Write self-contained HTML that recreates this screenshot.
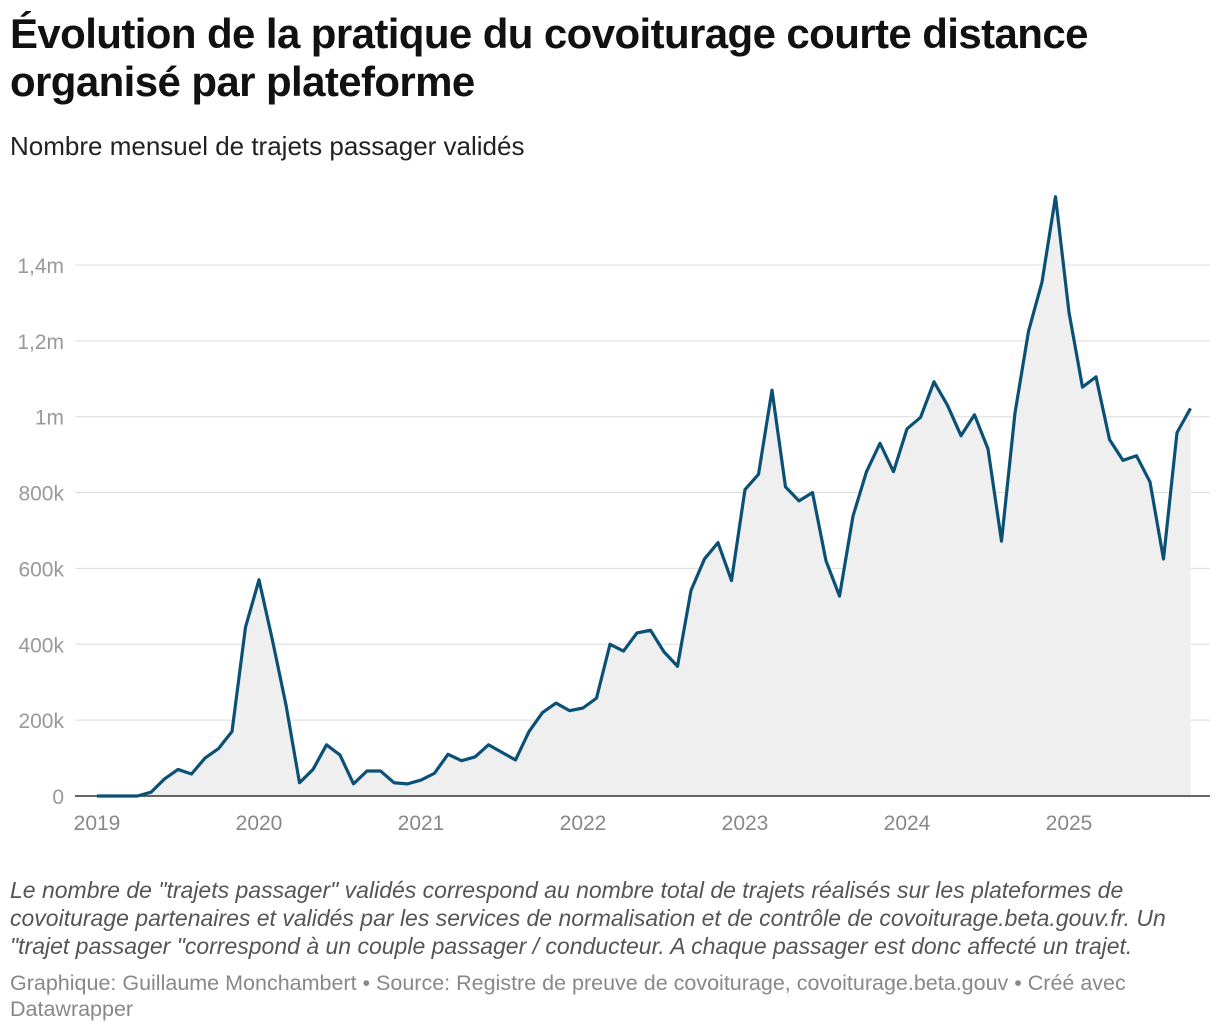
<!DOCTYPE html>
<html><head><meta charset="utf-8"><style>
body{margin:0;background:#fff;font-family:"Liberation Sans",sans-serif;}
#wrap{position:relative;width:1220px;height:1032px;overflow:hidden}
h1{position:absolute;left:10px;top:10px;width:1150px;margin:0;font-size:42px;line-height:48px;font-weight:bold;color:#111;letter-spacing:-0.6px}
.sub{position:absolute;left:10px;top:131px;font-size:26px;color:#222}
.note{position:absolute;left:10px;top:876px;width:1205px;font-size:23px;line-height:28px;font-style:italic;color:#555}
.foot{position:absolute;left:10px;top:970px;width:1180px;font-size:21.5px;line-height:26px;color:#888}
svg{position:absolute;left:0;top:0}
</style></head><body><div id="wrap">
<h1>Évolution de la pratique du covoiturage courte distance organisé par plateforme</h1>
<div class="sub">Nombre mensuel de trajets passager validés</div>
<svg id="chart" width="1220" height="870"></svg>
<div class="note">Le nombre de "trajets passager" validés correspond au nombre total de trajets réalisés sur les plateformes de covoiturage partenaires et validés par les services de normalisation et de contrôle de covoiturage.beta.gouv.fr. Un "trajet passager "correspond à un couple passager / conducteur. A chaque passager est donc affecté un trajet.</div>
<div class="foot">Graphique: Guillaume Monchambert • Source: Registre de preuve de covoiturage, covoiturage.beta.gouv • Créé avec Datawrapper</div>
</div>
<script>
const values=[0,0,0,0,10,45,70,58,100,125,170,445,570,410,240,35,70,135,108,32,66,66,35,32,42,60,110,93,103,135,115,95,170,220,245,225,232,258,400,382,430,437,380,342,542,625,668,568,808,848,1070,815,778,800,620,527,738,855,930,855,968,998,1092,1030,950,1005,915,672,1010,1225,1355,1580,1275,1078,1105,940,885,897,828,625,958,1022];
const yTicks=[0,200,400,600,800,1000,1200,1400];
const yLabels=["0","200k","400k","600k","800k","1m","1,2m","1,4m"];
const years=[2019,2020,2021,2022,2023,2024,2025];
const NS="http://www.w3.org/2000/svg";
const svg=document.getElementById('chart');
const x=i=>97+i*13.5;
const xYear=y=>97+(y-2019)*162;
const y=v=>796-v*0.3793;
function mk(t,a){const e=document.createElementNS(NS,t);for(const k in a)e.setAttribute(k,a[k]);svg.appendChild(e);return e;}
yTicks.forEach((t,i)=>{
 if(t>0){const g=mk('line',{x1:75,x2:1210,y1:y(t),y2:y(t),stroke:'#dcdcdc','stroke-width':1});
 
 }
 const l=mk('text',{x:64,y:y(t)+8,'text-anchor':'end','font-size':21,fill:'#999','font-family':'Liberation Sans, sans-serif'});
 l.textContent=yLabels[i];
 
 
});
years.forEach(yr=>{
 const l=mk('text',{x:xYear(yr),y:830,'text-anchor':'middle','font-size':21,fill:'#888','font-family':'Liberation Sans, sans-serif'});
 l.textContent=yr;
 
 
});
let d=values.map((v,i)=>(i?'L':'M')+x(i)+' '+y(v)).join(' ');
const area=mk('path',{d:d+` L${x(values.length-1)} ${y(0)} L${x(0)} ${y(0)} Z`,fill:'#efefef'});


const base=mk('line',{x1:75,x2:1210,y1:y(0),y2:y(0),stroke:'#333','stroke-width':1.5});


const line=mk('path',{d:d,fill:'none',stroke:'#0b5176','stroke-width':3.2,'stroke-linejoin':'round'});


</script></body></html>
